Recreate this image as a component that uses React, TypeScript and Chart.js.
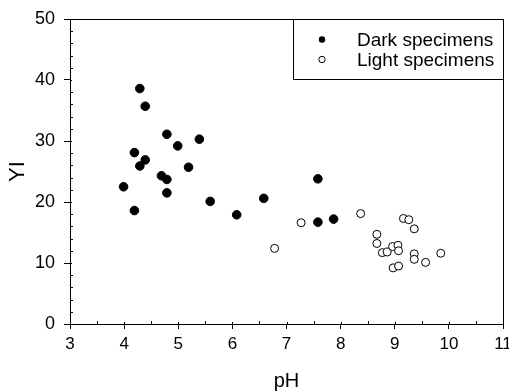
import React, { useEffect, useRef } from 'react';
import { Chart, registerables } from 'chart.js';

Chart.register(...registerables);

const darkPH = [4.29, 4.39, 4.79, 5.39, 4.99, 4.19, 4.39, 4.29, 5.19, 4.69, 4.79, 3.99, 4.79, 5.59, 4.19, 6.08, 6.58, 7.58, 7.58, 7.87];
const darkYI = [38.6, 35.7, 31.1, 30.3, 29.2, 28.1, 26.9, 25.9, 25.7, 24.3, 23.7, 22.5, 21.5, 20.1, 18.6, 17.9, 20.6, 23.8, 16.7, 17.2];
const lightPH = [6.78, 7.27, 8.37, 9.16, 9.26, 9.36, 8.67, 8.67, 8.77, 8.86, 8.96, 9.06, 9.07, 9.36, 9.36, 9.57, 9.85, 8.97, 9.07];
const lightYI = [12.4, 16.6, 18.1, 17.3, 17.1, 15.6, 14.7, 13.2, 11.7, 11.8, 12.7, 12.9, 12.0, 11.5, 10.6, 10.1, 11.6, 9.2, 9.5];
const seriesNames = ['Dark specimens', 'Light specimens'];
const xRange = [3, 11];
const yRange = [0, 50];

const FONT = "Arial, 'Liberation Sans', sans-serif";

const framePlugin = {
  id: 'frameAndTicks',
  afterDraw(chart: any) {
    const ctx = chart.ctx;
    const { left, right, top, bottom } = chart.chartArea;
    const xs = chart.scales.x;
    const ys = chart.scales.y;
    ctx.save();
    ctx.strokeStyle = '#000';
    ctx.lineWidth = 1;
    ctx.strokeRect(Math.round(left) + 0.5, Math.round(top) + 0.5, Math.round(right - left), Math.round(bottom - top));
    ctx.beginPath();
    for (let v = xRange[0]; v <= xRange[1] + 1e-9; v += 0.5) {
      const px = Math.round(xs.getPixelForValue(v)) + 0.5;
      const isMajor = Math.abs(v - Math.round(v)) < 1e-9;
      ctx.moveTo(px, Math.round(bottom));
      ctx.lineTo(px, Math.round(bottom) - (isMajor ? 2 : 3));
    }
    for (let v = yRange[0]; v <= yRange[1] + 1e-9; v += 2) {
      const py = Math.round(ys.getPixelForValue(v)) + 0.5;
      const isMajor = Math.abs(v / 10 - Math.round(v / 10)) < 1e-9;
      ctx.moveTo(Math.round(left), py);
      ctx.lineTo(Math.round(left) + (isMajor ? 2 : 3), py);
    }
    ctx.stroke();

    const lx = 293.5;
    const ly = Math.round(top) + 0.5;
    const lw = Math.round(right) - 293;
    const lh = 60;
    ctx.fillStyle = '#fff';
    ctx.fillRect(lx, ly, lw, lh);
    ctx.strokeRect(lx, ly, lw, lh);

    ctx.font = `19px ${FONT}`;
    ctx.textBaseline = 'middle';
    ctx.textAlign = 'left';
    const rows = [ly + 20, ly + 40];
    chart.data.datasets.forEach((ds: any, i: number) => {
      const cy = rows[i];
      ctx.beginPath();
      ctx.arc(322, cy, 3.2, 0, Math.PI * 2);
      if (i === 0) {
        ctx.fillStyle = '#000';
        ctx.fill();
      } else {
        ctx.fillStyle = '#fff';
        ctx.fill();
        ctx.stroke();
      }
      ctx.fillStyle = '#000';
      ctx.fillText(ds.label, 357, cy + 1);
    });
    ctx.restore();
  },
};

export default function App() {
  const ref = useRef<HTMLCanvasElement>(null);
  useEffect(() => {
    document.body.style.margin = '0';
    const canvas = ref.current!;
    const chart = new Chart(canvas, {
      type: 'scatter',
      data: {
        datasets: [
          {
            label: seriesNames[0],
            data: darkPH.map((x, i) => ({ x, y: darkYI[i] })),
            backgroundColor: '#000',
            borderColor: '#000',
            borderWidth: 1,
            pointRadius: 4.3,
          },
          {
            label: seriesNames[1],
            data: lightPH.map((x, i) => ({ x, y: lightYI[i] })),
            backgroundColor: '#fff',
            borderColor: '#000',
            borderWidth: 1,
            pointRadius: 4,
          },
        ],
      },
      options: {
        animation: false,
        responsive: false,
        maintainAspectRatio: false,
        layout: { padding: { left: 0, top: 19, right: 6, bottom: 0 } },
        plugins: { legend: { display: false }, tooltip: { enabled: false } },
        scales: {
          x: {
            type: 'linear',
            min: xRange[0],
            max: xRange[1],
            border: { display: true, color: '#000', width: 1 },
            grid: { display: true, drawOnChartArea: false, drawTicks: true, tickLength: 5, color: '#000' },
            ticks: { stepSize: 1, color: '#000', padding: 5, font: { family: FONT, size: 17 } },
            title: { display: true, text: 'pH', color: '#000', font: { family: FONT, size: 20, lineHeight: 1 }, padding: { top: 0, bottom: 1 } },
            afterFit: (s: any) => {
              s.height = 68;
              s.paddingLeft = 0;
              s.paddingRight = 0;
            },
          },
          y: {
            type: 'linear',
            min: yRange[0],
            max: yRange[1],
            border: { display: true, color: '#000', width: 1 },
            grid: { display: true, drawOnChartArea: false, drawTicks: true, tickLength: 6, color: '#000' },
            ticks: { stepSize: 10, color: '#000', padding: 9, font: { family: FONT, size: 18 } },
            title: { display: true, text: 'YI', color: '#000', font: { family: FONT, size: 22, lineHeight: 1 }, padding: { top: 7, bottom: 0 } },
            afterFit: (s: any) => {
              s.width = 70;
              s.paddingTop = 0;
              s.paddingBottom = 0;
            },
          },
        },
      },
      plugins: [framePlugin],
    });
    return () => chart.destroy();
  }, []);
  return (
    <div style={{ width: 509, height: 392 }}>
      <canvas ref={ref} width={509} height={392} style={{ display: 'block' }} />
    </div>
  );
}
